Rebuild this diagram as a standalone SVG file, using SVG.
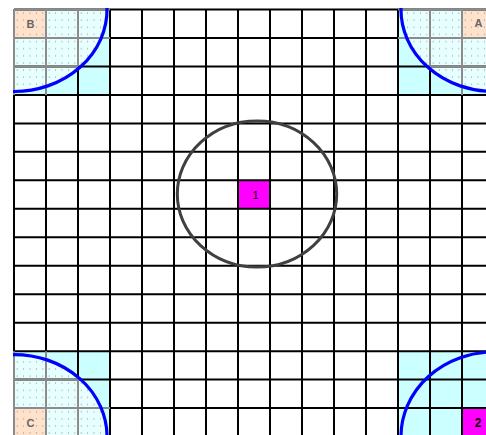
<svg xmlns="http://www.w3.org/2000/svg" width="486" height="435" viewBox="0 0 486 435">
<style>
.cyan{fill:#ccffff}
.light{fill:#e8ffff}
.peach{fill:#ffe2cc}
.mag{fill:#ff00ff}
.dots{fill:url(#dotpat)}
.grid{fill:none;stroke:#000;stroke-width:2}
.grey{fill:none;stroke:#8c8c8c;stroke-width:2}
.arc{fill:none;stroke:#0000ff;stroke-width:3.2}
.ring{fill:none;stroke:#404040;stroke-width:3}
.lbl{font-family:"Liberation Sans",Arial,sans-serif;font-size:11px;font-weight:bold;fill:#666;text-anchor:middle}
.num{font-family:"Liberation Sans",Arial,sans-serif;font-size:11px;fill:#000;text-anchor:middle}
</style>
<defs>
<pattern id="dotpat" patternUnits="userSpaceOnUse" x="14" y="9.5" width="6.4" height="7.1175">
<rect x="2.7" y="3.1" width="1" height="1" fill="#8a8a8a"/>
</pattern>
</defs>
<rect width="486" height="435" fill="#fff"/>
<g id="corner-B">
<rect class="cyan" x="14" y="9.5" width="96" height="85.41"/>
<path class="light" d="M14,9.5 L107,9.5 A93,82 0 0 1 14,91.5 Z"/>
<rect class="peach" x="14" y="9.5" width="32" height="28.47"/>
<path class="dots" d="M14,9.5 L107,9.5 A93,82 0 0 1 14,91.5 Z"/>
</g>
<g id="corner-A">
<rect class="cyan" x="398" y="9.5" width="96" height="85.41"/>
<path class="light" d="M494,9.5 L401,9.5 A93,82 0 0 0 494,91.5 Z"/>
<rect class="peach" x="462" y="9.5" width="32" height="28.47"/>
<path class="dots" d="M494,9.5 L401,9.5 A93,82 0 0 0 494,91.5 Z"/>
</g>
<g id="corner-C">
<rect class="cyan" x="14" y="351.14" width="96" height="85.41"/>
<path class="light" d="M14,436.55 L14,354.55 A93,82 0 0 1 107,436.55 Z"/>
<rect class="peach" x="14" y="408.08" width="32" height="28.47"/>
<path class="dots" d="M14,436.55 L14,354.55 A93,82 0 0 1 107,436.55 Z"/>
</g>
<g id="corner-2">
<rect class="cyan" x="398" y="351.14" width="96" height="85.41"/>
<rect class="mag" x="462" y="408.08" width="32" height="28.47"/>
</g>
<g id="cell-1">
<rect class="mag" x="238" y="180.32" width="32" height="28.47"/>
</g>
<g id="grid">
<path class="grid" d="M14,9.5 V436.55 M46,9.5 V436.55 M78,9.5 V436.55 M110,9.5 V436.55 M142,9.5 V436.55 M174,9.5 V436.55 M206,9.5 V436.55 M238,9.5 V436.55 M270,9.5 V436.55 M302,9.5 V436.55 M334,9.5 V436.55 M366,9.5 V436.55 M398,9.5 V436.55 M430,9.5 V436.55 M462,9.5 V436.55 M494,9.5 V436.55
M14,9.5 H494 M14,37.97 H494 M14,66.44 H494 M14,94.91 H494 M14,123.38 H494 M14,151.85 H494 M14,180.32 H494 M14,208.79 H494 M14,237.26 H494 M14,265.73 H494 M14,294.2 H494 M14,322.67 H494 M14,351.14 H494 M14,379.61 H494 M14,408.08 H494 M14,436.55 H494"/>
<path class="grey" d="M14,9.5 V94.91 M46,9.5 V94.91 M78,9.5 V66.44 M14,9.5 H110 M14,37.97 H110 M14,66.44 H78"/>
<path class="grey" d="M462,9.5 V94.91 M430,9.5 V66.44 M398,9.5 H494 M398,37.97 H494 M430,66.44 H494"/>
<path class="grey" d="M14,351.14 V436.55 M46,351.14 V436.55 M78,379.61 V436.55 M14,408.08 H110 M14,379.61 H78"/>
</g>
<g id="arcs">
<path class="arc" d="M107,8 A93,82 0 0 1 13,91.5"/>
<path class="arc" d="M401,8 A93,82 0 0 0 495,91.5"/>
<path class="arc" d="M13,354.55 A93,82 0 0 1 107,437.5"/>
<path class="arc" d="M401,437.5 A93,84.6 0 0 1 495,351.95"/>
</g>
<g id="circle">
<ellipse class="ring" cx="257" cy="194" rx="79.7" ry="73"/>
</g>
<g id="labels">
<text class="lbl" x="30.5" y="27.5">B</text>
<text class="lbl" x="478.5" y="27">A</text>
<text class="lbl" x="30.5" y="426.5">C</text>
<text class="num" x="255.5" y="198.5">1</text>
<text class="num" x="478" y="427" style="font-weight:bold;font-size:12px">2</text>
</g>
<g id="connectors"/>
</svg>
